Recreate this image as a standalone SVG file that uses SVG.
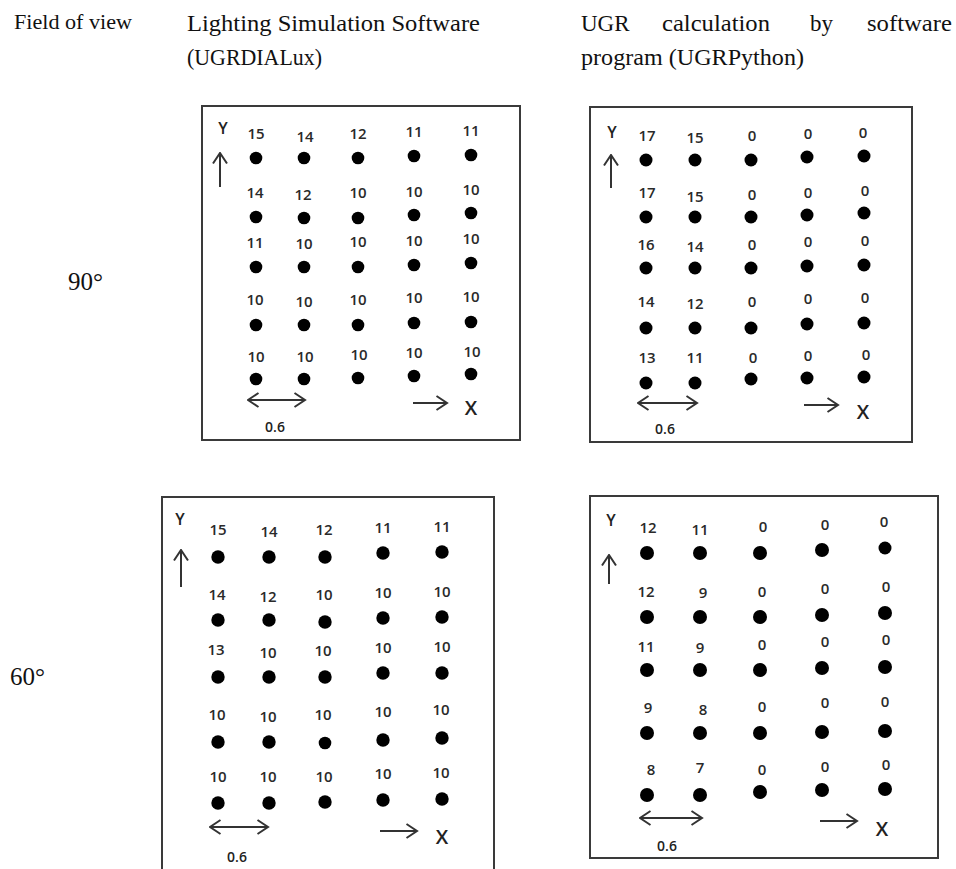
<svg xmlns="http://www.w3.org/2000/svg" width="956" height="869" viewBox="0 0 956 869">
<defs>
<style>
.hdr{font-family:"Liberation Serif","Times New Roman",serif;fill:#111}
.box{fill:none;stroke:#3a3a3a;stroke-width:2}
.d{fill:#000}
.l{font-family:"Open Sans","Liberation Sans",sans-serif;font-size:15px;font-weight:600;fill:#2a2a2a;text-anchor:middle}
.ax{stroke:#333;stroke-width:2;fill:none}
.ae{marker-end:url(#ah)}
.as{marker-start:url(#ah)}
.axl{font-family:"Open Sans","Liberation Sans",sans-serif;font-weight:600;fill:#222;text-anchor:middle}
</style>
<marker id="ah" viewBox="0 0 14 18" refX="12.5" refY="9" markerWidth="14" markerHeight="18" markerUnits="userSpaceOnUse" orient="auto-start-reverse">
<path d="M2,2 L12.5,9 L2,16" fill="none" stroke="#333" stroke-width="2"/>
</marker>
</defs>
<rect width="956" height="869" fill="#fff"/>

<g id="headers">
<text class="hdr" x="14" y="29" font-size="20" textLength="118" lengthAdjust="spacingAndGlyphs">Field of view</text>
<text class="hdr" x="187" y="31" font-size="23" textLength="293" lengthAdjust="spacingAndGlyphs">Lighting Simulation Software</text>
<text class="hdr" x="187" y="65" font-size="23" textLength="135" lengthAdjust="spacingAndGlyphs">(UGRDIALux)</text>
<text class="hdr" x="581" y="31" font-size="23">UGR</text>
<text class="hdr" x="662" y="31" font-size="23" textLength="108" lengthAdjust="spacingAndGlyphs">calculation</text>
<text class="hdr" x="810" y="31" font-size="23">by</text>
<text class="hdr" x="867" y="31" font-size="23" textLength="85" lengthAdjust="spacingAndGlyphs">software</text>
<text class="hdr" x="581" y="65" font-size="23" textLength="223" lengthAdjust="spacingAndGlyphs">program (UGRPython)</text>
<text class="hdr" x="68" y="290" font-size="25">90°</text>
<text class="hdr" x="10" y="685" font-size="25">60°</text>
</g>

<g id="panel-90-dialux">
<rect class="box" x="202" y="106" width="318" height="334"/>
<text class="axl" x="223" y="134" font-size="16">Y</text>
<text class="axl" x="275" y="432" font-size="14">0.6</text>
<text class="axl" x="471" y="415" font-size="20">X</text>
<g class="l">
<text x="256" y="139">15</text><text x="305" y="142">14</text><text x="358" y="139">12</text><text x="414" y="137">11</text><text x="471" y="136">11</text>
<text x="255" y="198">14</text><text x="303" y="200">12</text><text x="358" y="198">10</text><text x="414" y="197">10</text><text x="471" y="195">10</text>
<text x="255" y="248">11</text><text x="304" y="249">10</text><text x="358" y="247">10</text><text x="414" y="246">10</text><text x="471" y="244">10</text>
<text x="255" y="305">10</text><text x="304" y="307">10</text><text x="358" y="305">10</text><text x="414" y="303">10</text><text x="471" y="302">10</text>
<text x="256" y="362">10</text><text x="305" y="362">10</text><text x="359" y="360">10</text><text x="414" y="358">10</text><text x="472" y="357">10</text>
</g>
<g class="d">
<circle cx="256" cy="158" r="6.3"/><circle cx="304" cy="158" r="6.3"/><circle cx="358" cy="158" r="6.3"/><circle cx="414" cy="156" r="6.3"/><circle cx="471" cy="155" r="6.3"/>
<circle cx="256" cy="217" r="6.3"/><circle cx="304" cy="218" r="6.3"/><circle cx="358" cy="218" r="6.3"/><circle cx="414" cy="215" r="6.3"/><circle cx="471" cy="213" r="6.3"/>
<circle cx="256" cy="267" r="6.3"/><circle cx="304" cy="267" r="6.3"/><circle cx="358" cy="267" r="6.3"/><circle cx="414" cy="265" r="6.3"/><circle cx="471" cy="263" r="6.3"/>
<circle cx="256" cy="325" r="6.3"/><circle cx="304" cy="325" r="6.3"/><circle cx="358" cy="325" r="6.3"/><circle cx="414" cy="323" r="6.3"/><circle cx="471" cy="322" r="6.3"/>
<circle cx="256" cy="379" r="6.3"/><circle cx="304" cy="379" r="6.3"/><circle cx="358" cy="378" r="6.3"/><circle cx="414" cy="376" r="6.3"/><circle cx="471" cy="374" r="6.3"/>
</g>
</g>

<g id="panel-90-python">
<rect class="box" x="590" y="107" width="322" height="335"/>
<text class="axl" x="612" y="138" font-size="16">Y</text>
<text class="axl" x="665" y="434" font-size="14">0.6</text>
<text class="axl" x="863" y="419" font-size="20">X</text>
<g class="l">
<text x="647" y="141">17</text><text x="695" y="143">15</text><text x="752" y="141">0</text><text x="808" y="139">0</text><text x="863" y="138">0</text>
<text x="647" y="198">17</text><text x="695" y="202">15</text><text x="752" y="200">0</text><text x="808" y="198">0</text><text x="865" y="196">0</text>
<text x="646" y="250">16</text><text x="695" y="252">14</text><text x="752" y="250">0</text><text x="808" y="247">0</text><text x="865" y="246">0</text>
<text x="646" y="307">14</text><text x="695" y="309">12</text><text x="752" y="307">0</text><text x="808" y="304">0</text><text x="865" y="303">0</text>
<text x="647" y="363">13</text><text x="695" y="363">11</text><text x="753" y="363">0</text><text x="808" y="361">0</text><text x="866" y="360">0</text>
</g>
<g class="d">
<circle cx="646" cy="160" r="6.5"/><circle cx="695" cy="160" r="6.5"/><circle cx="751" cy="160" r="6.5"/><circle cx="807" cy="157" r="6.5"/><circle cx="864" cy="156" r="6.5"/>
<circle cx="646" cy="217" r="6.5"/><circle cx="695" cy="217" r="6.5"/><circle cx="751" cy="217" r="6.5"/><circle cx="807" cy="215" r="6.5"/><circle cx="864" cy="213" r="6.5"/>
<circle cx="646" cy="268" r="6.5"/><circle cx="695" cy="268" r="6.5"/><circle cx="751" cy="268" r="6.5"/><circle cx="807" cy="266" r="6.5"/><circle cx="864" cy="265" r="6.5"/>
<circle cx="646" cy="328" r="6.5"/><circle cx="695" cy="328" r="6.5"/><circle cx="751" cy="328" r="6.5"/><circle cx="807" cy="324" r="6.5"/><circle cx="864" cy="323" r="6.5"/>
<circle cx="646" cy="383" r="6.5"/><circle cx="695" cy="383" r="6.5"/><circle cx="751" cy="379" r="6.5"/><circle cx="807" cy="378" r="6.5"/><circle cx="864" cy="377" r="6.5"/>
</g>
</g>

<g id="panel-60-dialux">
<path class="box" d="M162,875 V497 H494 V875"/>
<text class="axl" x="180" y="525" font-size="16">Y</text>
<text class="axl" x="237" y="862" font-size="14">0.6</text>
<text class="axl" x="442" y="844" font-size="20">X</text>
<g class="l">
<text x="218" y="535">15</text><text x="269" y="537">14</text><text x="324" y="535">12</text><text x="383" y="533">11</text><text x="442" y="532">11</text>
<text x="217" y="600">14</text><text x="268" y="602">12</text><text x="324" y="600">10</text><text x="383" y="598">10</text><text x="442" y="597">10</text>
<text x="216" y="655">13</text><text x="268" y="658">10</text><text x="323" y="656">10</text><text x="383" y="653">10</text><text x="442" y="652">10</text>
<text x="217" y="720">10</text><text x="268" y="722">10</text><text x="323" y="720">10</text><text x="383" y="717">10</text><text x="441" y="715">10</text>
<text x="218" y="782">10</text><text x="268" y="782">10</text><text x="324" y="782">10</text><text x="383" y="779">10</text><text x="441" y="778">10</text>
</g>
<g class="d">
<circle cx="218" cy="557" r="6.7"/><circle cx="269" cy="557" r="6.7"/><circle cx="325" cy="557" r="6.7"/><circle cx="383" cy="553" r="6.7"/><circle cx="442" cy="552" r="6.7"/>
<circle cx="218" cy="620" r="6.7"/><circle cx="269" cy="620" r="6.7"/><circle cx="325" cy="622" r="6.7"/><circle cx="383" cy="618" r="6.7"/><circle cx="442" cy="617" r="6.7"/>
<circle cx="218" cy="677" r="6.7"/><circle cx="269" cy="677" r="6.7"/><circle cx="325" cy="677" r="6.7"/><circle cx="383" cy="673" r="6.7"/><circle cx="442" cy="673" r="6.7"/>
<circle cx="218" cy="742" r="6.7"/><circle cx="269" cy="742" r="6.7"/><circle cx="325" cy="743" r="6.3"/><circle cx="383" cy="740" r="6.7"/><circle cx="442" cy="738" r="6.7"/>
<circle cx="218" cy="803" r="6.7"/><circle cx="269" cy="803" r="6.7"/><circle cx="325" cy="802" r="6.7"/><circle cx="383" cy="800" r="6.7"/><circle cx="442" cy="799" r="6.7"/>
</g>
</g>

<g id="panel-60-python">
<rect class="box" x="590" y="496" width="348" height="362"/>
<text class="axl" x="611" y="526" font-size="16">Y</text>
<text class="axl" x="667" y="851" font-size="14">0.6</text>
<text class="axl" x="882" y="836" font-size="20">X</text>
<g class="l">
<text x="648" y="533">12</text><text x="700" y="535">11</text><text x="763" y="532">0</text><text x="825" y="530">0</text><text x="884" y="527">0</text>
<text x="646" y="597">12</text><text x="703" y="598">9</text><text x="762" y="597">0</text><text x="825" y="594">0</text><text x="886" y="592">0</text>
<text x="646" y="652">11</text><text x="700" y="653">9</text><text x="762" y="650">0</text><text x="825" y="647">0</text><text x="886" y="645">0</text>
<text x="648" y="713">9</text><text x="703" y="715">8</text><text x="762" y="712">0</text><text x="825" y="708">0</text><text x="885" y="707">0</text>
<text x="651" y="775">8</text><text x="700" y="773">7</text><text x="762" y="775">0</text><text x="825" y="772">0</text><text x="886" y="770">0</text>
</g>
<g class="d">
<circle cx="647" cy="553" r="7"/><circle cx="700" cy="553" r="7"/><circle cx="760" cy="553" r="7"/><circle cx="822" cy="550" r="7"/><circle cx="885" cy="548" r="6.5"/>
<circle cx="647" cy="617" r="7"/><circle cx="700" cy="617" r="7"/><circle cx="760" cy="617" r="7"/><circle cx="822" cy="615" r="7"/><circle cx="885" cy="613" r="7"/>
<circle cx="647" cy="670" r="7"/><circle cx="700" cy="670" r="7"/><circle cx="760" cy="670" r="7"/><circle cx="822" cy="668" r="7"/><circle cx="885" cy="667" r="7"/>
<circle cx="647" cy="733" r="7"/><circle cx="700" cy="733" r="7"/><circle cx="760" cy="733" r="7"/><circle cx="822" cy="732" r="7"/><circle cx="885" cy="731" r="7"/>
<circle cx="647" cy="795" r="7"/><circle cx="700" cy="795" r="7"/><circle cx="760" cy="792" r="7"/><circle cx="822" cy="790" r="7"/><circle cx="885" cy="789" r="7"/>
</g>
</g>

<g id="connectors">
<line class="ax ae" x1="220" y1="187" x2="220" y2="153"/>
<line class="ax ae as" x1="248" y1="400" x2="305" y2="400"/>
<line class="ax ae" x1="413" y1="403" x2="447" y2="403"/>
<line class="ax ae" x1="611" y1="188" x2="611" y2="155"/>
<line class="ax ae as" x1="638" y1="403" x2="697" y2="403"/>
<line class="ax ae" x1="804" y1="405" x2="838" y2="405"/>
<line class="ax ae" x1="181" y1="587" x2="181" y2="550"/>
<line class="ax ae as" x1="210" y1="827" x2="268" y2="827"/>
<line class="ax ae" x1="380" y1="831" x2="417" y2="831"/>
<line class="ax ae" x1="609" y1="584" x2="609" y2="555"/>
<line class="ax ae as" x1="640" y1="818" x2="702" y2="818"/>
<line class="ax ae" x1="820" y1="821" x2="857" y2="821"/>
</g>
</svg>
